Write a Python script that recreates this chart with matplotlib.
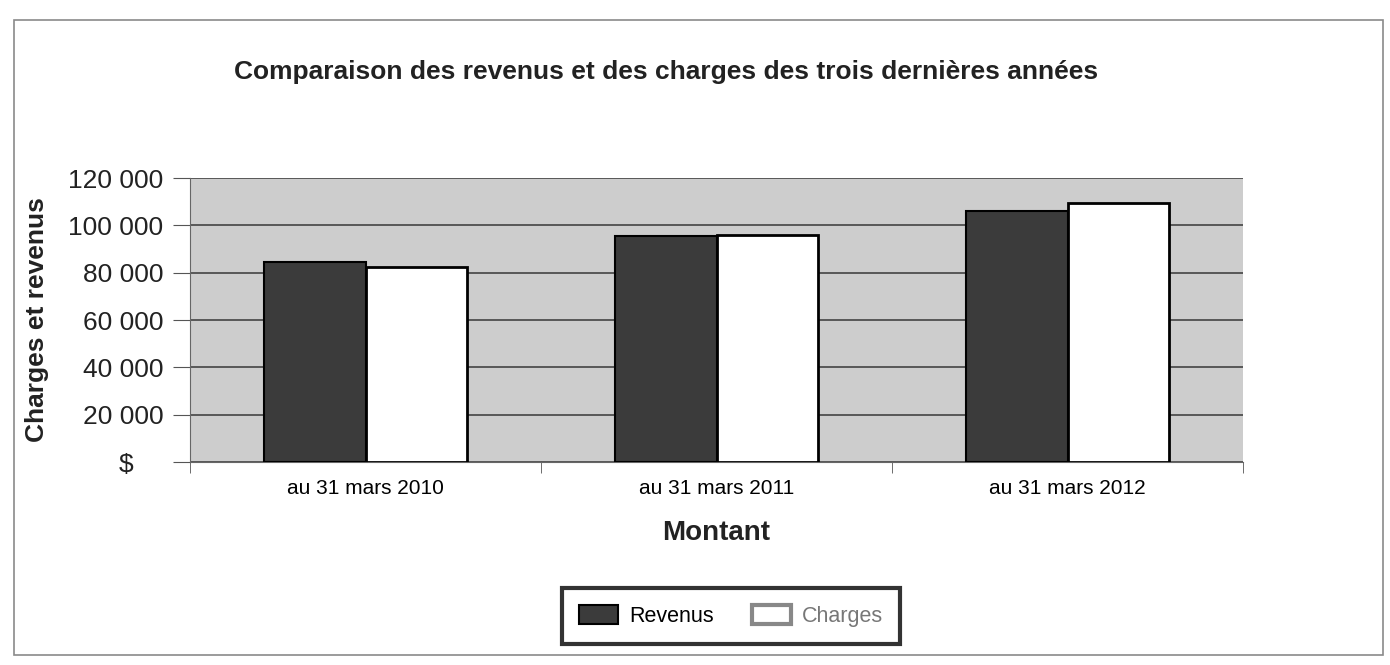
import matplotlib.pyplot as plt
import numpy as np
from matplotlib.patches import Rectangle
from matplotlib import ticker

# Data
categories = ["au 31 mars 2010", "au 31 mars 2011", "au 31 mars 2012"]
revenus = [84500, 95500, 106000]
charges = [82600, 95800, 109500]
yticks = [0, 20000, 40000, 60000, 80000, 100000, 120000]
ytick_labels = ["$    ", "20 000", "40 000", "60 000", "80 000", "100 000", "120 000"]

plt.rcParams['font.family'] = ['Liberation Sans', 'DejaVu Sans']

fig = plt.figure(figsize=(13.9, 6.65), dpi=100)

# outer frame of the chart
frame = Rectangle((14 / 1390, 1 - 655 / 665), (1383 - 14) / 1390, (655 - 20) / 665,
                  transform=fig.transFigure, fill=False, edgecolor='#8a8a8a', lw=1.2)
fig.patches.append(frame)

ax = fig.add_axes([190 / 1390, 1 - 462 / 665, (1243 - 190) / 1390, (462 - 178) / 665])
ax.set_facecolor('#cdcdcd')

x = np.arange(len(categories))
w = 0.29
ax.bar(x - w / 2, revenus, w, color='#3b3b3b', edgecolor='black', lw=1.5, label='Revenus', zorder=3)
ax.bar(x + w / 2, charges, w, color='white', edgecolor='black', lw=2, label='Charges', zorder=3)

ax.set_xlim(-0.5, 2.5)
ax.set_ylim(0, 120000)
ax.set_yticks(yticks)
ax.set_yticklabels(ytick_labels, fontsize=19, color='#222222')
ax.yaxis.grid(True, color='#444444', lw=1.2, zorder=1)
ax.set_axisbelow(True)

# category labels centred, tick marks between categories
ax.set_xticks(x)
ax.set_xticklabels(categories, fontsize=15)
ax.xaxis.set_minor_locator(ticker.FixedLocator([-0.5, 0.5, 1.5, 2.5]))
ax.tick_params(axis='x', which='major', length=0, pad=12)
ax.tick_params(axis='x', which='minor', length=8, color='#555555')
ax.tick_params(axis='y', length=12, color='#555555', pad=7)

for s in ['top', 'right']:
    ax.spines[s].set_visible(False)
ax.spines['left'].set_color('#666666')
ax.spines['bottom'].set_color('#666666')

ax.set_xlabel('Montant', fontsize=20, fontweight='bold', color='#222222', labelpad=16)
ax.set_ylabel('Charges et revenus', fontsize=19, fontweight='bold', color='#222222', labelpad=14)

fig.text(0.479, 1 - 72 / 665, 'Comparaison des revenus et des charges des trois dernières années',
         ha='center', va='center', fontsize=19, fontweight='bold', color='#222222')

leg = fig.legend(loc='center', bbox_to_anchor=(0.526, 0.074), ncol=2, fontsize=15.5,
                 frameon=True, fancybox=False, edgecolor='black', handlelength=1.8,
                 handleheight=1.0, handletextpad=0.5, columnspacing=1.8, borderpad=0.8)
leg.get_frame().set_linewidth(3)
leg.legend_handles[1].set_edgecolor('#888888')
leg.legend_handles[1].set_linewidth(3)
leg.get_texts()[1].set_color('#777777')

fig.savefig('out.png', dpi=100)
